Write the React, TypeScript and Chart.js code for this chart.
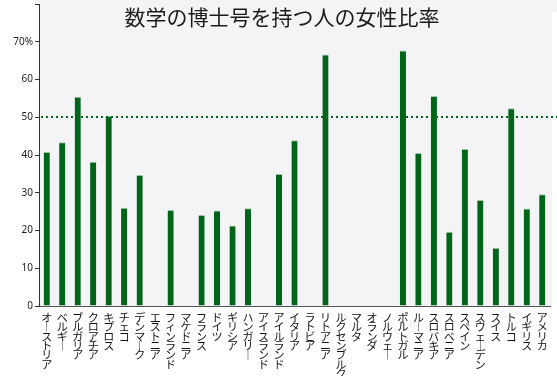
import React, { useEffect, useRef } from 'react';
import { Chart, registerables } from 'chart.js';

Chart.register(...registerables);

const titleText = '数学の博士号を持つ人の女性比率';

const categories = [
  'オーストリア', 'ベルギー', 'ブルガリア', 'クロアチア', 'キプロス', 'チェコ', 'デンマーク',
  'エストニア', 'フィンランド', 'マケドニア', 'フランス', 'ドイツ', 'ギリシア', 'ハンガリー',
  'アイスランド', 'アイルランド', 'イタリア', 'ラトビア', 'リトアニア', 'ルクセンブルク', 'マルタ',
  'オランダ', 'ノルウェー', 'ポルトガル', 'ルーマニア', 'スロバキア', 'スロベニア', 'スペイン',
  'スウェーデン', 'スイス', 'トルコ', 'イギリス', 'アメリカ',
];

const femaleShare: (number | null)[] = [
  40.8, 43.4, 55.4, 38.2, 50.3, 26.0, 34.7,
  null, 25.4, null, 24.1, 25.3, 21.3, 25.9,
  null, 35.0, 43.9, null, 66.6, null, null,
  null, null, 67.7, 40.5, 55.6, 19.7, 41.6,
  28.1, 15.4, 52.4, 25.8, 29.6,
];

const referenceLine = 50;
const yMin = 0;
const yMax = 80;
const yStep = 10;

function yTickLabel(v: number): string {
  if (v === 80) return '';
  if (v === 70) return '70%';
  return String(v);
}

export default function App() {
  const ref = useRef<HTMLCanvasElement>(null);

  useEffect(() => {
    document.body.style.margin = '0';
    if (!ref.current) return;

    const bgPlugin = {
      id: 'plotBg',
      beforeDraw(chart: any) {
        const { ctx, chartArea: a, width } = chart;
        ctx.save();
        ctx.fillStyle = '#f4f4f7';
        ctx.fillRect(a.left, 0, a.right + 2 - a.left, a.bottom);
        ctx.fillRect(a.left, 0, width - a.left, 12);
        ctx.restore();
      },
    };

    const overlayPlugin = {
      id: 'overlay',
      afterDraw(chart: any) {
        const { ctx, chartArea: a, width } = chart;
        const y = Math.round(chart.scales.y.getPixelForValue(referenceLine));
        ctx.save();
        ctx.strokeStyle = '#006419';
        ctx.lineWidth = 2;
        ctx.setLineDash([2, 3]);
        ctx.beginPath();
        ctx.moveTo(a.left + 2, y);
        ctx.lineTo(width, y);
        ctx.stroke();
        ctx.setLineDash([]);
        ctx.fillStyle = '#1a1a1a';
        ctx.font = '21px "Noto Sans CJK JP", sans-serif';
        ctx.textAlign = 'center';
        ctx.textBaseline = 'middle';
        ctx.fillText(titleText, 282, 17.5);
        ctx.restore();
      },
    };

    const chart = new Chart(ref.current, {
      type: 'bar',
      data: {
        labels: categories,
        datasets: [
          {
            data: femaleShare,
            backgroundColor: '#006419',
            borderColor: '#9fc2a3',
            borderWidth: { top: 1, right: 0, left: 0, bottom: 0 },
            borderSkipped: false,
            barPercentage: 0.4,
            categoryPercentage: 1,
          },
        ],
      },
      options: {
        animation: false,
        responsive: true,
        maintainAspectRatio: false,
        layout: { padding: { top: 2, right: 7, left: 0, bottom: 0 } },
        plugins: {
          legend: { display: false },
          tooltip: { enabled: false },
          title: { display: false },
        },
        scales: {
          x: {
            type: 'category',
            grid: { display: false, drawTicks: false },
            border: { display: true, color: '#555' },
            ticks: {
              autoSkip: false,
              maxRotation: 0,
              minRotation: 0,
              padding: 7,
              color: '#111',
              font: { family: '"Noto Sans CJK JP", sans-serif', size: 11, lineHeight: 0.85 },
              callback: (_v: any, i: number) =>
                categories[i].split('').map((c) => (c === 'ー' ? '︱' : c)),
            },
            afterFit(s: any) {
              s.height = 70;
            },
          },
          y: {
            min: yMin,
            max: yMax,
            ticks: {
              stepSize: yStep,
              padding: 2,
              color: '#222',
              font: { family: '"Noto Sans", sans-serif', size: 10, lineHeight: 0.4 },
              callback: (v: any) => yTickLabel(Number(v)),
            },
            grid: { drawOnChartArea: false, tickLength: 4, color: '#333' },
            border: { color: '#333' },
            afterFit(s: any) {
              s.width = 39;
            },
          },
        },
      },
      plugins: [bgPlugin, overlayPlugin],
    } as any);

    return () => chart.destroy();
  }, []);

  return (
    <div style={{ width: 557, height: 376, position: 'relative' }}>
      <canvas ref={ref} />
    </div>
  );
}
